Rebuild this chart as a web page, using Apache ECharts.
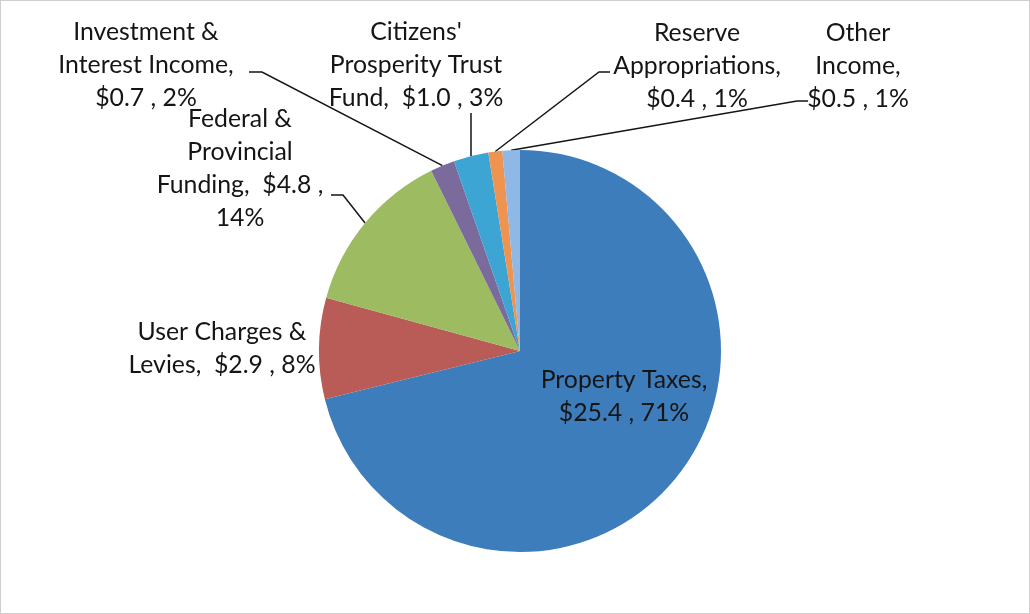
<!DOCTYPE html>
<html>
<head>
<meta charset="utf-8">
<script src="https://cdn.jsdelivr.net/npm/echarts@6/dist/echarts.min.js"></script>
<style>
  html, body { margin: 0; padding: 0; background: #ffffff; }
  #frame { position: absolute; left: 0; top: 0; width: 1030px; height: 614px; box-sizing: border-box; border: 1px solid #cfcfcf; background: #fff; }
  #chart { position: absolute; left: 0; top: 0; width: 1030px; height: 614px; }
</style>
</head>
<body>
<div id="frame"></div>
<div id="chart"></div>
<script>
// ---- data ----
const categories = [
  "Property Taxes",
  "User Charges & Levies",
  "Federal & Provincial Funding",
  "Investment & Interest Income",
  "Citizens' Prosperity Trust Fund",
  "Reserve Appropriations",
  "Other Income"
];
const values = [25.4, 2.9, 4.8, 0.7, 1.0, 0.4, 0.5];   // $ millions
const percents = [71, 8, 14, 2, 3, 1, 1];              // % as printed
// label text lines (how the reference wraps each label)
const labelLinesText = [
  ["Property Taxes,", "$25.4 , 71%"],
  ["User Charges &", "Levies,  $2.9 , 8%"],
  ["Federal &", "Provincial", "Funding,  $4.8 ,", "14%"],
  ["Investment &", "Interest Income,", "$0.7 , 2%"],
  ["Citizens'", "Prosperity Trust", "Fund,  $1.0 , 3%"],
  ["Reserve", "Appropriations,", "$0.4 , 1%"],
  ["Other", "Income,", "$0.5 , 1%"]
];

// ---- styling / layout ----
const colors = ["#3e7dbb", "#b95b57", "#9dbb61", "#7b6a9c", "#3ca5d4", "#ef9350", "#8fb8e6"];
const labelLayoutSpec = [
  { x: 624, y: 397 },
  { x: 222, y: 349 },
  { x: 240, y: 169, line: [[343, 195], [331, 195]] },
  { x: 146, y: 65,  line: [[262, 72], [249, 72]] },
  { x: 416, y: 65,  line: [[471, 113]] },
  { x: 697, y: 66,  line: [[599, 72], [610, 72]] },
  { x: 858, y: 66,  line: [[797, 101], [808, 101]] }
];

const chart = echarts.init(document.getElementById('chart'), null, { renderer: 'canvas' });

const data = categories.map((name, i) => ({
  name: name,
  value: values[i],
  itemStyle: { color: colors[i] },
  labelLine: { show: !!labelLayoutSpec[i].line }
}));

chart.setOption({
  animation: false,
  backgroundColor: 'transparent',
  series: [{
    type: 'pie',
    center: [520, 351],
    radius: 201,
    startAngle: 90,
    clockwise: true,
    avoidLabelOverlap: false,
    emphasis: { disabled: true },
    itemStyle: { borderWidth: 0 },
    data: data,
    label: {
      show: true,
      position: 'outside',
      color: '#151515',
      fontFamily: 'Lato',
      fontSize: 24.8,
      lineHeight: 33,
      align: 'center',
      formatter: p => labelLinesText[p.dataIndex].join('\n')
    },
    labelLine: {
      show: true,
      length: 10,
      length2: 10,
      lineStyle: { color: '#151515', width: 1.5 }
    },
    labelLayout: function (params) {
      const spec = labelLayoutSpec[params.dataIndex];
      const out = { x: spec.x, y: spec.y, align: 'center', verticalAlign: 'middle' };
      if (spec.line && params.labelLinePoints) {
        out.labelLinePoints = [params.labelLinePoints[0]].concat(spec.line);
      }
      return out;
    }
  }]
});
</script>
</body>
</html>
